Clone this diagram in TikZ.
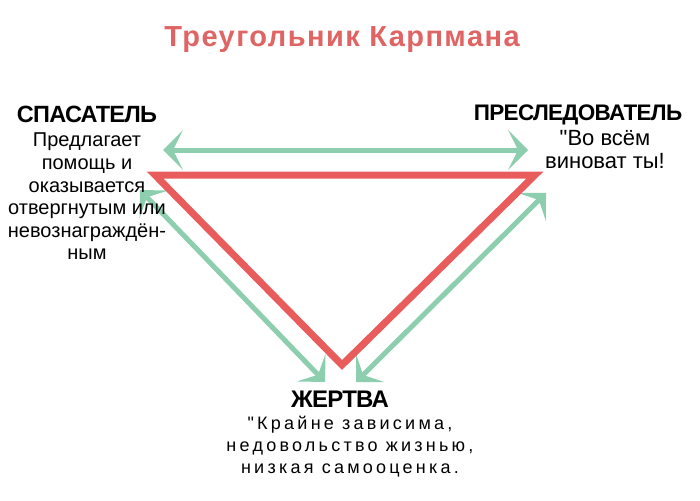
\documentclass[tikz,border=0pt]{standalone}
\usepackage{fontspec}
\setmainfont{Liberation Sans}[Ligatures=TeXOff]
\newfontfamily\rolefont{Liberation Sans}[Ligatures=TeXOff,LetterSpace=-3]
\newfontfamily\quotefont{Liberation Sans}[Ligatures=TeXOff,LetterSpace=18]
\newfontfamily\titlefont{Liberation Sans}[Ligatures=TeXOff,LetterSpace=5]
\usetikzlibrary{arrows.meta}
\definecolor{karpred}{RGB}{232,92,92}
\definecolor{titlered}{RGB}{224,100,100}
\definecolor{karpgreen}{RGB}{140,206,174}

\def\pagebox{(0,0) rectangle (700,500)}

\begin{document}
\begin{tikzpicture}[x=1pt,y=-1pt,
    role/.style={anchor=base,inner sep=0pt,font=\rolefont\bfseries\fontsize{22.5}{24}\selectfont},
    say/.style={anchor=north,align=center,inner sep=0pt,font=\fontsize{20}{22.6}\selectfont},
    swing/.style={karpgreen,line width=5pt,
      arrows={Stealth[length=20pt,width=40pt,inset=10pt,line width=0pt]-Stealth[length=20pt,width=40pt,inset=10pt,line width=0pt]}},
    edge/.style={karpred,line width=7pt,line join=miter}]
  \useasboundingbox \pagebox;
  \fill[white] \pagebox;
  \node[anchor=base,inner sep=0pt,text=titlered,font=\titlefont\bfseries\fontsize{29}{31}\selectfont]
    (title) at (342,47) {Треугольник Карпмана};

  \coordinate (resc) at (155,175);
  \coordinate (pers) at (535,175);
  \coordinate (vict) at (342,365);
  \coordinate (topL) at (163,150);
  \coordinate (topR) at (528,150);
  \coordinate (leftU) at (140,190);
  \coordinate (leftD) at (325,382);
  \coordinate (rightD) at (356,382);
  \coordinate (rightU) at (546,193);

  \draw[swing] (topL) -- (topR);
  \draw[swing] (leftU) -- (leftD);
  \draw[swing] (rightD) -- (rightU);
  \draw[edge] (resc) -- (pers) -- (vict) -- cycle;

  \node[role,font=\rolefont\bfseries\fontsize{23.5}{25}\selectfont] (rescuer) at (87,122) {СПАСАТЕЛЬ};
  \node[say] (rescuertext) at (87,133) {Предлагает\\помощь и\\оказывается\\отвергнутым или\\невознаграждён-\\ным};
  \node[role] (persecutor) at (578,120) {ПРЕСЛЕДОВАТЕЛЬ};
  \node[say,font=\fontsize{22}{23}\selectfont] (persecutortext) at (605,130) {"Во всём\\виноват ты!};
  \node[role,font=\rolefont\bfseries\fontsize{24}{26}\selectfont] (victim) at (340,407) {ЖЕРТВА};
  \node[say,font=\quotefont\fontsize{18}{22}\selectfont] (victimtext) at (350,416) {"Крайне зависима,\\недовольство жизнью,\\низкая самооценка.};
\end{tikzpicture}
\end{document}
